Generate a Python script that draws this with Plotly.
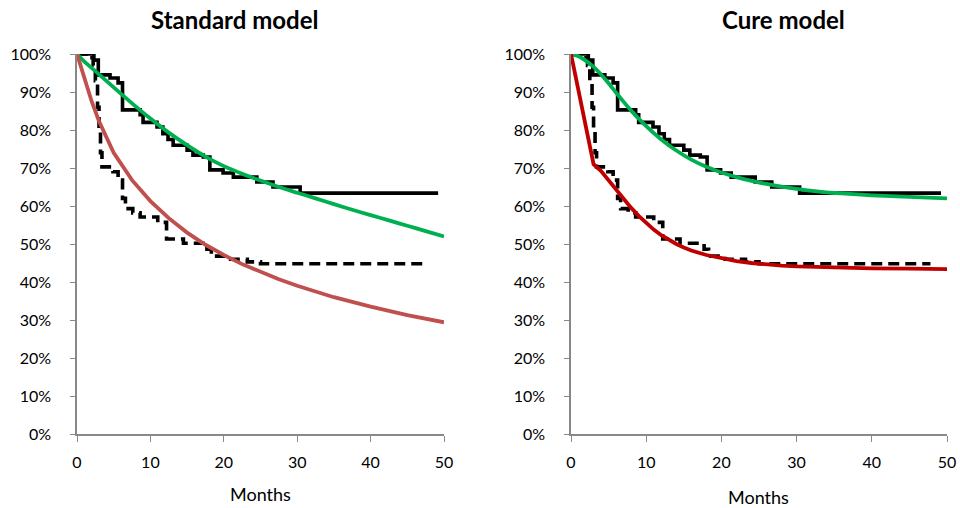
import plotly.graph_objects as go

W, H = 960, 508

# Kaplan-Meier (observed) data, group 1 (solid) and group 2 (dashed), months / survival %
km1_t = [0, 2.3, 2.9, 4.5, 5.6, 6.2, 8.6, 9.0, 10.9, 11.7, 12.4, 13.1, 15.0, 15.8, 17.2, 18.1, 19.9, 21.3, 24.5, 26.7, 30.4, 49.2]
km1_s = [100, 98.4, 94.5, 93.7, 92.4, 85.3, 84.0, 82.0, 80.8, 79.0, 77.5, 76.0, 74.7, 73.4, 72.9, 69.5, 68.7, 67.6, 66.3, 65.0, 63.4, 63.4]

km2_t = [0, 1.5, 2.2, 2.5, 2.8, 3.0, 3.2, 3.4, 4.9, 5.6, 6.2, 6.6, 7.6, 8.6, 11.0, 12.2, 14.5, 17.7, 18.3, 20.5, 23.2, 25.0, 47.8]
km2_s = [100, 99.0, 97.0, 93.0, 86.0, 80.0, 74.0, 70.3, 69.0, 66.8, 62.0, 59.3, 58.2, 57.1, 55.7, 51.3, 50.2, 48.6, 46.8, 46.0, 45.3, 44.8, 44.8]

# Standard model fits
std1_t = [0, 1, 2.5, 5, 7.5, 10, 12.5, 15, 17.5, 20, 22.5, 25, 27.5, 30, 32.5, 35, 37.5, 40, 42.5, 45, 47.5, 50]
std1_s = [100, 98.0, 95.5, 91.2, 87.0, 83.0, 79.3, 76.0, 73.0, 70.5, 68.5, 66.7, 65.0, 63.5, 62.0, 60.5, 59.0, 57.6, 56.2, 54.8, 53.4, 52.0]

std2_t = [0, 0.5, 1, 1.5, 2, 3, 4, 5, 7.5, 10, 12.5, 15, 17.5, 20, 22.5, 25, 27.5, 30, 35, 40, 45, 50]
std2_s = [100, 97.0, 93.5, 90.3, 87.5, 82.3, 77.9, 74.0, 66.8, 61.3, 56.8, 53.0, 49.8, 47.1, 44.7, 42.6, 40.7, 39.0, 36.0, 33.5, 31.3, 29.4]

# Cure model fits
cure1_t = [0, 1, 2, 3, 4, 5, 6, 7, 8, 9, 10, 12, 14, 16, 18, 20, 22, 24, 26, 28, 30, 33, 36, 40, 45, 50]
cure1_s = [100, 99.4, 98.2, 96.6, 94.6, 92.3, 89.8, 87.4, 85.1, 83.0, 81.0, 77.5, 74.6, 72.2, 70.3, 68.8, 67.6, 66.6, 65.8, 65.1, 64.5, 63.8, 63.3, 62.8, 62.4, 62.0]

cure2_t = [0, 3, 4, 5, 6, 7, 8, 9, 10, 11, 12, 13, 14, 15, 16, 18, 20, 22, 24, 26, 28, 30, 35, 40, 45, 50]
cure2_s = [100, 71.0, 69.2, 66.8, 64.3, 61.8, 59.5, 57.4, 55.5, 53.8, 52.3, 51.1, 50.0, 49.1, 48.3, 47.1, 46.2, 45.5, 45.0, 44.6, 44.3, 44.1, 43.8, 43.6, 43.5, 43.4]

x_ticks = [0, 10, 20, 30, 40, 50]
y_ticks = [0, 0.1, 0.2, 0.3, 0.4, 0.5, 0.6, 0.7, 0.8, 0.9, 1.0]

GREEN = "#00B050"
RED_STD = "#C0504D"
RED_CURE = "#C00000"
AXIS = "#888888"
FONT = "Lato"


def pct(vals):
    return [v / 100 for v in vals]


fig = go.Figure()

panels = [
    ("x", "y", std1_t, std1_s, std2_t, std2_s, RED_STD),
    ("x2", "y2", cure1_t, cure1_s, cure2_t, cure2_s, RED_CURE),
]
for xa, ya, g_t, g_s, r_t, r_s, rc in panels:
    fig.add_trace(go.Scatter(x=km1_t, y=pct(km1_s), mode="lines", line=dict(color="black", width=3.6, shape="hv"),
                             xaxis=xa, yaxis=ya, showlegend=False, cliponaxis=False))
    fig.add_trace(go.Scatter(x=km2_t, y=pct(km2_s), mode="lines",
                             line=dict(color="black", width=3.6, shape="hv", dash="11px,6px"),
                             xaxis=xa, yaxis=ya, showlegend=False, cliponaxis=False))
    fig.add_trace(go.Scatter(x=g_t, y=pct(g_s), mode="lines", line=dict(color=GREEN, width=3.8, shape="spline", smoothing=0.6),
                             xaxis=xa, yaxis=ya, showlegend=False, cliponaxis=False))
    fig.add_trace(go.Scatter(x=r_t, y=pct(r_s), mode="lines", line=dict(color=rc, width=3.8),
                             xaxis=xa, yaxis=ya, showlegend=False, cliponaxis=False))

# plot-area pixel geometry
y_top, y_bot = 54, 434
yd = [(H - y_bot) / H, (H - y_top) / H]
xd1 = [77 / W, 444 / W]
xd2 = [571 / W, 947 / W]

tickfont = dict(family=FONT, size=16, color="black")

def xaxis(domain, anchor):
    return dict(domain=domain, anchor=anchor, range=[0, 50], tickvals=x_ticks, showgrid=False, zeroline=False,
                showline=True, linecolor=AXIS, linewidth=1.5, ticks="outside", ticklen=6, tickcolor=AXIS, tickwidth=1.3,
                tickfont=tickfont, ticklabelstandoff=7, automargin=False)

def yaxis(anchor):
    return dict(domain=yd, anchor=anchor, range=[0, 1], tickvals=y_ticks, tickformat=".0%", showgrid=False,
                zeroline=False, showline=True, linecolor=AXIS, linewidth=1.5, ticks="outside", ticklen=5,
                tickcolor=AXIS, tickwidth=1.3, tickfont=tickfont, ticklabelstandoff=16, automargin=False)

def ann(text, xpx, ypx, size, bold=False):
    return dict(text=f"<b>{text}</b>" if bold else text, x=xpx / W, y=1 - ypx / H, xref="paper", yref="paper",
                showarrow=False, xanchor="center", yanchor="middle", font=dict(family=FONT, size=size, color="black"))

fig.update_layout(
    width=W, height=H, margin=dict(l=0, r=0, t=0, b=0, autoexpand=False), autosize=False,
    paper_bgcolor="white", plot_bgcolor="white",
    xaxis=xaxis(xd1, "y"), yaxis=yaxis("x"),
    xaxis2=xaxis(xd2, "y2"), yaxis2=yaxis("x2"),
    annotations=[
        ann("Standard model", 234, 19, 24, bold=True),
        ann("Cure model", 783, 19, 24, bold=True),
        ann("Months", 260, 494, 18),
        ann("Months", 758, 497, 18),
    ],
)

fig.write_html("out.html")
